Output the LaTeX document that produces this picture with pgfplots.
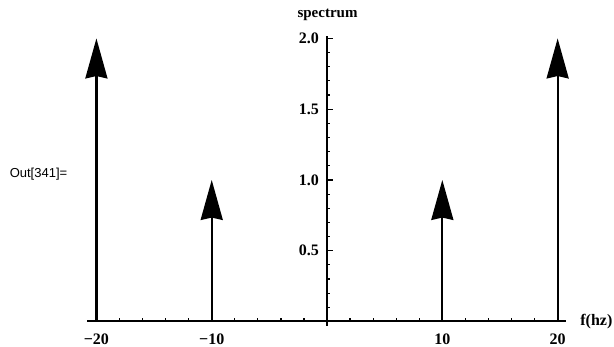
\documentclass[border=0pt]{standalone}
\usepackage{fontspec}
\setmainfont{Liberation Serif}
\newfontfamily\labelsans{Liberation Sans}
\usepackage{pgfplots}
\pgfplotsset{compat=1.18}
\usetikzlibrary{arrows.meta}
\begin{document}
\begin{tikzpicture}
\useasboundingbox (0,0) rectangle (307pt,173.5pt);
\begin{axis}[
  scale only axis,
  width=239.2pt, height=145.2pt,
  at={(43.65pt,10.5pt)}, anchor=south west,
  axis lines=middle,
  axis line style={-, line width=0.7pt},
  x axis line style={line width=1pt},
  xmin=-20.79, xmax=20.70,
  ymin=-0.032, ymax=2.02,
  clip=false,
  xtick={-20,-10,10,20},
  xticklabels={−20,−10,10,20},
  minor xtick={-18,-16,-14,-12,-8,-6,-4,-2,0,2,4,6,8,12,14,16,18},
  ytick={0.5,1,1.5,2},
  yticklabels={0.5,1.0,1.5,2.0},
  minor ytick={0.1,0.2,0.3,0.4,0.6,0.7,0.8,0.9,1.1,1.2,1.3,1.4,1.6,1.7,1.8,1.9},
  tick align=inside,
  major tick length=2.8pt,
  minor tick length=1.5pt,
  tick style={line width=0.6pt, black},
  ticklabel style={font=\bfseries\fontsize{8}{9}\selectfont},
  xticklabel style={anchor=north, yshift=-2.5pt},
  yticklabel style={anchor=east, xshift=-0.5pt},
  /pgf/number format/assume math mode=true,
]
\addplot[black, line width=1.1pt,
  quiver={u=\thisrow{u}, v=\thisrow{v}},
  -{Stealth[length=20pt, width=11pt, inset=1.2pt]}]
  table {
x y u v
-20 0 0 2
-10 0 0 1
10 0 0 1
20 0 0 2
};
\end{axis}
\node[font=\bfseries\fontsize{7.5}{9}\selectfont] at (163.75pt,166pt) {spectrum};
\node[font=\labelsans\fontsize{6.5}{8}\selectfont] at (19.25pt,86.5pt) {Out[341]=};
\node[font=\bfseries\fontsize{8}{9}\selectfont, anchor=west, inner sep=0pt] at (290pt,12.5pt) {f(hz)};
\end{tikzpicture}
\end{document}
